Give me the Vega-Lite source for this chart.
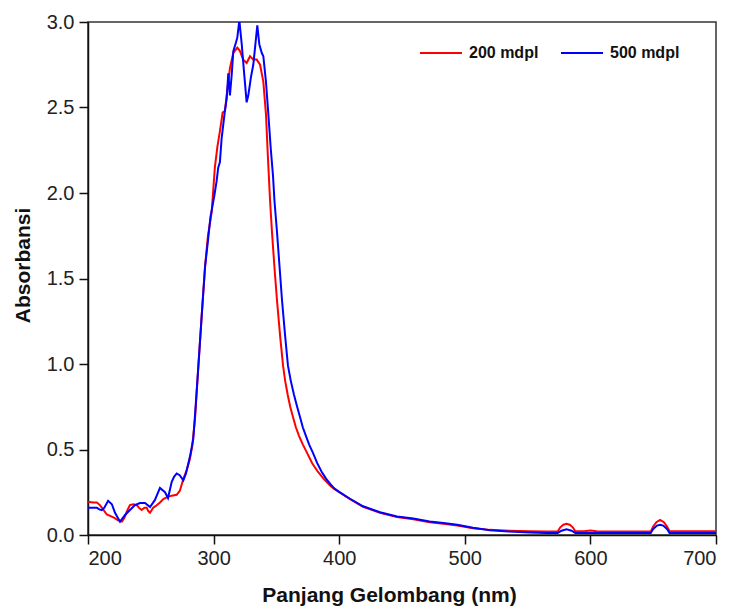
{
  "$schema": "https://vega.github.io/schema/vega-lite/v6.json",
  "width": 628,
  "height": 513,
  "autosize": {"type": "none"},
  "padding": {"left": 88, "top": 22, "right": 20, "bottom": 80},
  "background": "white",
  "config": {
    "font": "Liberation Sans",
    "view": {"stroke": "#333", "strokeWidth": 1.5},
    "axis": {
      "domainColor": "#111",
      "domainWidth": 1.5,
      "tickColor": "#111",
      "tickWidth": 1.5,
      "tickSize": 9,
      "grid": false,
      "labelFont": "Liberation Sans",
      "labelFontSize": 20,
      "labelColor": "#222",
      "titleFont": "Liberation Sans",
      "titleFontSize": 21,
      "titleFontWeight": "bold",
      "titleColor": "#111"
    }
  },
  "datasets": {
    "spec": [
      {"nm": 200, "A": 0.195, "s": "200 mdpl"},
      {"nm": 204, "A": 0.19, "s": "200 mdpl"},
      {"nm": 207, "A": 0.19, "s": "200 mdpl"},
      {"nm": 209.5, "A": 0.175, "s": "200 mdpl"},
      {"nm": 212, "A": 0.15, "s": "200 mdpl"},
      {"nm": 215, "A": 0.12, "s": "200 mdpl"},
      {"nm": 218, "A": 0.11, "s": "200 mdpl"},
      {"nm": 221, "A": 0.1, "s": "200 mdpl"},
      {"nm": 224, "A": 0.085, "s": "200 mdpl"},
      {"nm": 227, "A": 0.078, "s": "200 mdpl"},
      {"nm": 229, "A": 0.1, "s": "200 mdpl"},
      {"nm": 231, "A": 0.14, "s": "200 mdpl"},
      {"nm": 233.4, "A": 0.175, "s": "200 mdpl"},
      {"nm": 236, "A": 0.18, "s": "200 mdpl"},
      {"nm": 238.8, "A": 0.175, "s": "200 mdpl"},
      {"nm": 240.5, "A": 0.16, "s": "200 mdpl"},
      {"nm": 242.7, "A": 0.146, "s": "200 mdpl"},
      {"nm": 245, "A": 0.16, "s": "200 mdpl"},
      {"nm": 246.7, "A": 0.16, "s": "200 mdpl"},
      {"nm": 248, "A": 0.14, "s": "200 mdpl"},
      {"nm": 249.4, "A": 0.13, "s": "200 mdpl"},
      {"nm": 251.9, "A": 0.16, "s": "200 mdpl"},
      {"nm": 254, "A": 0.17, "s": "200 mdpl"},
      {"nm": 257.3, "A": 0.19, "s": "200 mdpl"},
      {"nm": 260, "A": 0.21, "s": "200 mdpl"},
      {"nm": 262.6, "A": 0.22, "s": "200 mdpl"},
      {"nm": 266.6, "A": 0.23, "s": "200 mdpl"},
      {"nm": 270.6, "A": 0.235, "s": "200 mdpl"},
      {"nm": 273.2, "A": 0.26, "s": "200 mdpl"},
      {"nm": 276, "A": 0.33, "s": "200 mdpl"},
      {"nm": 278.6, "A": 0.38, "s": "200 mdpl"},
      {"nm": 281, "A": 0.44, "s": "200 mdpl"},
      {"nm": 283, "A": 0.52, "s": "200 mdpl"},
      {"nm": 285.2, "A": 0.68, "s": "200 mdpl"},
      {"nm": 287.8, "A": 0.98, "s": "200 mdpl"},
      {"nm": 290.5, "A": 1.28, "s": "200 mdpl"},
      {"nm": 293.2, "A": 1.57, "s": "200 mdpl"},
      {"nm": 295.5, "A": 1.75, "s": "200 mdpl"},
      {"nm": 298.5, "A": 1.89, "s": "200 mdpl"},
      {"nm": 301, "A": 2.15, "s": "200 mdpl"},
      {"nm": 303, "A": 2.27, "s": "200 mdpl"},
      {"nm": 305, "A": 2.36, "s": "200 mdpl"},
      {"nm": 307.2, "A": 2.47, "s": "200 mdpl"},
      {"nm": 309, "A": 2.48, "s": "200 mdpl"},
      {"nm": 310.4, "A": 2.57, "s": "200 mdpl"},
      {"nm": 313, "A": 2.73, "s": "200 mdpl"},
      {"nm": 315.7, "A": 2.82, "s": "200 mdpl"},
      {"nm": 318.9, "A": 2.85, "s": "200 mdpl"},
      {"nm": 321, "A": 2.83, "s": "200 mdpl"},
      {"nm": 323.6, "A": 2.78, "s": "200 mdpl"},
      {"nm": 326.3, "A": 2.76, "s": "200 mdpl"},
      {"nm": 329, "A": 2.8, "s": "200 mdpl"},
      {"nm": 331.6, "A": 2.78, "s": "200 mdpl"},
      {"nm": 334.3, "A": 2.78, "s": "200 mdpl"},
      {"nm": 337, "A": 2.75, "s": "200 mdpl"},
      {"nm": 339.6, "A": 2.65, "s": "200 mdpl"},
      {"nm": 341.7, "A": 2.46, "s": "200 mdpl"},
      {"nm": 343.3, "A": 2.2, "s": "200 mdpl"},
      {"nm": 345, "A": 1.95, "s": "200 mdpl"},
      {"nm": 346.5, "A": 1.77, "s": "200 mdpl"},
      {"nm": 348.5, "A": 1.56, "s": "200 mdpl"},
      {"nm": 350.5, "A": 1.37, "s": "200 mdpl"},
      {"nm": 353, "A": 1.16, "s": "200 mdpl"},
      {"nm": 355.3, "A": 0.99, "s": "200 mdpl"},
      {"nm": 357, "A": 0.9, "s": "200 mdpl"},
      {"nm": 359, "A": 0.82, "s": "200 mdpl"},
      {"nm": 361, "A": 0.75, "s": "200 mdpl"},
      {"nm": 363.2, "A": 0.69, "s": "200 mdpl"},
      {"nm": 365.5, "A": 0.63, "s": "200 mdpl"},
      {"nm": 368, "A": 0.58, "s": "200 mdpl"},
      {"nm": 371, "A": 0.53, "s": "200 mdpl"},
      {"nm": 374.4, "A": 0.48, "s": "200 mdpl"},
      {"nm": 378.5, "A": 0.42, "s": "200 mdpl"},
      {"nm": 383, "A": 0.37, "s": "200 mdpl"},
      {"nm": 388, "A": 0.325, "s": "200 mdpl"},
      {"nm": 392.7, "A": 0.29, "s": "200 mdpl"},
      {"nm": 396, "A": 0.27, "s": "200 mdpl"},
      {"nm": 400, "A": 0.25, "s": "200 mdpl"},
      {"nm": 408.6, "A": 0.21, "s": "200 mdpl"},
      {"nm": 419, "A": 0.165, "s": "200 mdpl"},
      {"nm": 432.5, "A": 0.13, "s": "200 mdpl"},
      {"nm": 446, "A": 0.105, "s": "200 mdpl"},
      {"nm": 459, "A": 0.092, "s": "200 mdpl"},
      {"nm": 472, "A": 0.075, "s": "200 mdpl"},
      {"nm": 483, "A": 0.066, "s": "200 mdpl"},
      {"nm": 494, "A": 0.056, "s": "200 mdpl"},
      {"nm": 506.5, "A": 0.04, "s": "200 mdpl"},
      {"nm": 520, "A": 0.03, "s": "200 mdpl"},
      {"nm": 535, "A": 0.025, "s": "200 mdpl"},
      {"nm": 552, "A": 0.022, "s": "200 mdpl"},
      {"nm": 565, "A": 0.02, "s": "200 mdpl"},
      {"nm": 574, "A": 0.02, "s": "200 mdpl"},
      {"nm": 576, "A": 0.045, "s": "200 mdpl"},
      {"nm": 578.5, "A": 0.06, "s": "200 mdpl"},
      {"nm": 581, "A": 0.065, "s": "200 mdpl"},
      {"nm": 583.5, "A": 0.06, "s": "200 mdpl"},
      {"nm": 586, "A": 0.045, "s": "200 mdpl"},
      {"nm": 588, "A": 0.022, "s": "200 mdpl"},
      {"nm": 595, "A": 0.022, "s": "200 mdpl"},
      {"nm": 600, "A": 0.026, "s": "200 mdpl"},
      {"nm": 605, "A": 0.022, "s": "200 mdpl"},
      {"nm": 620, "A": 0.02, "s": "200 mdpl"},
      {"nm": 640, "A": 0.02, "s": "200 mdpl"},
      {"nm": 648, "A": 0.02, "s": "200 mdpl"},
      {"nm": 650, "A": 0.05, "s": "200 mdpl"},
      {"nm": 652.5, "A": 0.075, "s": "200 mdpl"},
      {"nm": 655.5, "A": 0.088, "s": "200 mdpl"},
      {"nm": 658.5, "A": 0.075, "s": "200 mdpl"},
      {"nm": 661, "A": 0.05, "s": "200 mdpl"},
      {"nm": 663, "A": 0.022, "s": "200 mdpl"},
      {"nm": 680, "A": 0.022, "s": "200 mdpl"},
      {"nm": 700, "A": 0.022, "s": "200 mdpl"},

      {"nm": 200, "A": 0.16, "s": "500 mdpl"},
      {"nm": 204, "A": 0.16, "s": "500 mdpl"},
      {"nm": 207, "A": 0.16, "s": "500 mdpl"},
      {"nm": 209, "A": 0.15, "s": "500 mdpl"},
      {"nm": 211, "A": 0.145, "s": "500 mdpl"},
      {"nm": 213, "A": 0.16, "s": "500 mdpl"},
      {"nm": 216, "A": 0.2, "s": "500 mdpl"},
      {"nm": 219, "A": 0.18, "s": "500 mdpl"},
      {"nm": 221.5, "A": 0.13, "s": "500 mdpl"},
      {"nm": 225.5, "A": 0.078, "s": "500 mdpl"},
      {"nm": 229.5, "A": 0.117, "s": "500 mdpl"},
      {"nm": 233.4, "A": 0.146, "s": "500 mdpl"},
      {"nm": 237.4, "A": 0.175, "s": "500 mdpl"},
      {"nm": 241.4, "A": 0.187, "s": "500 mdpl"},
      {"nm": 245.4, "A": 0.187, "s": "500 mdpl"},
      {"nm": 249.4, "A": 0.164, "s": "500 mdpl"},
      {"nm": 253.3, "A": 0.205, "s": "500 mdpl"},
      {"nm": 257.3, "A": 0.275, "s": "500 mdpl"},
      {"nm": 261.3, "A": 0.25, "s": "500 mdpl"},
      {"nm": 263.7, "A": 0.216, "s": "500 mdpl"},
      {"nm": 266.6, "A": 0.31, "s": "500 mdpl"},
      {"nm": 268.5, "A": 0.34, "s": "500 mdpl"},
      {"nm": 270.6, "A": 0.36, "s": "500 mdpl"},
      {"nm": 273, "A": 0.35, "s": "500 mdpl"},
      {"nm": 275.9, "A": 0.32, "s": "500 mdpl"},
      {"nm": 278, "A": 0.36, "s": "500 mdpl"},
      {"nm": 281.2, "A": 0.46, "s": "500 mdpl"},
      {"nm": 283.8, "A": 0.56, "s": "500 mdpl"},
      {"nm": 285.2, "A": 0.7, "s": "500 mdpl"},
      {"nm": 287.8, "A": 0.98, "s": "500 mdpl"},
      {"nm": 290.5, "A": 1.28, "s": "500 mdpl"},
      {"nm": 293.2, "A": 1.57, "s": "500 mdpl"},
      {"nm": 295.5, "A": 1.72, "s": "500 mdpl"},
      {"nm": 297.5, "A": 1.86, "s": "500 mdpl"},
      {"nm": 298.5, "A": 1.9, "s": "500 mdpl"},
      {"nm": 300.5, "A": 1.98, "s": "500 mdpl"},
      {"nm": 302.4, "A": 2.07, "s": "500 mdpl"},
      {"nm": 303.7, "A": 2.15, "s": "500 mdpl"},
      {"nm": 305, "A": 2.18, "s": "500 mdpl"},
      {"nm": 306.4, "A": 2.32, "s": "500 mdpl"},
      {"nm": 309, "A": 2.48, "s": "500 mdpl"},
      {"nm": 310.4, "A": 2.55, "s": "500 mdpl"},
      {"nm": 311.7, "A": 2.7, "s": "500 mdpl"},
      {"nm": 313, "A": 2.57, "s": "500 mdpl"},
      {"nm": 314.4, "A": 2.69, "s": "500 mdpl"},
      {"nm": 315.7, "A": 2.83, "s": "500 mdpl"},
      {"nm": 317.8, "A": 2.88, "s": "500 mdpl"},
      {"nm": 318.9, "A": 2.91, "s": "500 mdpl"},
      {"nm": 320.5, "A": 3.01, "s": "500 mdpl"},
      {"nm": 322.4, "A": 2.87, "s": "500 mdpl"},
      {"nm": 324.2, "A": 2.71, "s": "500 mdpl"},
      {"nm": 326.3, "A": 2.53, "s": "500 mdpl"},
      {"nm": 327.6, "A": 2.57, "s": "500 mdpl"},
      {"nm": 329.8, "A": 2.68, "s": "500 mdpl"},
      {"nm": 331.6, "A": 2.75, "s": "500 mdpl"},
      {"nm": 333, "A": 2.85, "s": "500 mdpl"},
      {"nm": 334.8, "A": 2.98, "s": "500 mdpl"},
      {"nm": 336.4, "A": 2.87, "s": "500 mdpl"},
      {"nm": 338.3, "A": 2.82, "s": "500 mdpl"},
      {"nm": 339.6, "A": 2.8, "s": "500 mdpl"},
      {"nm": 341.7, "A": 2.65, "s": "500 mdpl"},
      {"nm": 343.6, "A": 2.46, "s": "500 mdpl"},
      {"nm": 345.5, "A": 2.26, "s": "500 mdpl"},
      {"nm": 347.3, "A": 2.1, "s": "500 mdpl"},
      {"nm": 348.5, "A": 1.95, "s": "500 mdpl"},
      {"nm": 350.5, "A": 1.77, "s": "500 mdpl"},
      {"nm": 352.5, "A": 1.57, "s": "500 mdpl"},
      {"nm": 354.5, "A": 1.37, "s": "500 mdpl"},
      {"nm": 357, "A": 1.16, "s": "500 mdpl"},
      {"nm": 359.2, "A": 0.99, "s": "500 mdpl"},
      {"nm": 361.5, "A": 0.9, "s": "500 mdpl"},
      {"nm": 364, "A": 0.82, "s": "500 mdpl"},
      {"nm": 366.5, "A": 0.75, "s": "500 mdpl"},
      {"nm": 368.8, "A": 0.69, "s": "500 mdpl"},
      {"nm": 371, "A": 0.63, "s": "500 mdpl"},
      {"nm": 373.5, "A": 0.58, "s": "500 mdpl"},
      {"nm": 376, "A": 0.53, "s": "500 mdpl"},
      {"nm": 379.1, "A": 0.48, "s": "500 mdpl"},
      {"nm": 382.5, "A": 0.42, "s": "500 mdpl"},
      {"nm": 386, "A": 0.37, "s": "500 mdpl"},
      {"nm": 389.5, "A": 0.33, "s": "500 mdpl"},
      {"nm": 392.7, "A": 0.3, "s": "500 mdpl"},
      {"nm": 396, "A": 0.273, "s": "500 mdpl"},
      {"nm": 400, "A": 0.252, "s": "500 mdpl"},
      {"nm": 408.6, "A": 0.212, "s": "500 mdpl"},
      {"nm": 419, "A": 0.168, "s": "500 mdpl"},
      {"nm": 432.5, "A": 0.133, "s": "500 mdpl"},
      {"nm": 446, "A": 0.108, "s": "500 mdpl"},
      {"nm": 459, "A": 0.096, "s": "500 mdpl"},
      {"nm": 472, "A": 0.079, "s": "500 mdpl"},
      {"nm": 483, "A": 0.07, "s": "500 mdpl"},
      {"nm": 494, "A": 0.06, "s": "500 mdpl"},
      {"nm": 506.5, "A": 0.042, "s": "500 mdpl"},
      {"nm": 520, "A": 0.028, "s": "500 mdpl"},
      {"nm": 535, "A": 0.02, "s": "500 mdpl"},
      {"nm": 552, "A": 0.015, "s": "500 mdpl"},
      {"nm": 565, "A": 0.012, "s": "500 mdpl"},
      {"nm": 574, "A": 0.012, "s": "500 mdpl"},
      {"nm": 577, "A": 0.025, "s": "500 mdpl"},
      {"nm": 581, "A": 0.033, "s": "500 mdpl"},
      {"nm": 585, "A": 0.025, "s": "500 mdpl"},
      {"nm": 588, "A": 0.012, "s": "500 mdpl"},
      {"nm": 620, "A": 0.012, "s": "500 mdpl"},
      {"nm": 648, "A": 0.012, "s": "500 mdpl"},
      {"nm": 650, "A": 0.035, "s": "500 mdpl"},
      {"nm": 653, "A": 0.055, "s": "500 mdpl"},
      {"nm": 655.5, "A": 0.06, "s": "500 mdpl"},
      {"nm": 658, "A": 0.055, "s": "500 mdpl"},
      {"nm": 661, "A": 0.035, "s": "500 mdpl"},
      {"nm": 663, "A": 0.012, "s": "500 mdpl"},
      {"nm": 680, "A": 0.012, "s": "500 mdpl"},
      {"nm": 700, "A": 0.012, "s": "500 mdpl"}
    ]
  },
  "data": {"name": "spec"},
  "mark": {"type": "line", "strokeWidth": 2, "clip": true, "interpolate": "linear"},
  "encoding": {
    "x": {
      "field": "nm",
      "type": "quantitative",
      "scale": {"domain": [200, 700], "nice": false, "zero": false},
      "axis": {"values": [200, 300, 400, 500, 600, 700], "title": "Panjang Gelombang (nm)", "labelPadding": 4, "titlePadding": 16, "titleX": 301}
    },
    "y": {
      "field": "A",
      "type": "quantitative",
      "scale": {"domain": [0, 3], "nice": false},
      "axis": {"values": [0, 0.5, 1, 1.5, 2, 2.5, 3], "format": ".1f", "title": "Absorbansi", "labelPadding": 5, "titlePadding": 13, "titleY": 243}
    },
    "color": {
      "field": "s",
      "type": "nominal",
      "scale": {"domain": ["200 mdpl", "500 mdpl"], "range": ["#ff0000", "#0000ff"]},
      "legend": {
        "title": null,
        "orient": "none",
        "legendX": 331,
        "legendY": 9,
        "direction": "horizontal",
        "symbolType": "stroke",
        "symbolSize": 1764,
        "symbolStrokeWidth": 2,
        "labelFont": "Liberation Sans",
        "labelFontSize": 16,
        "labelFontWeight": "bold",
        "labelColor": "#111",
        "labelOffset": 6,
        "columnPadding": 18
      }
    }
  }
}
